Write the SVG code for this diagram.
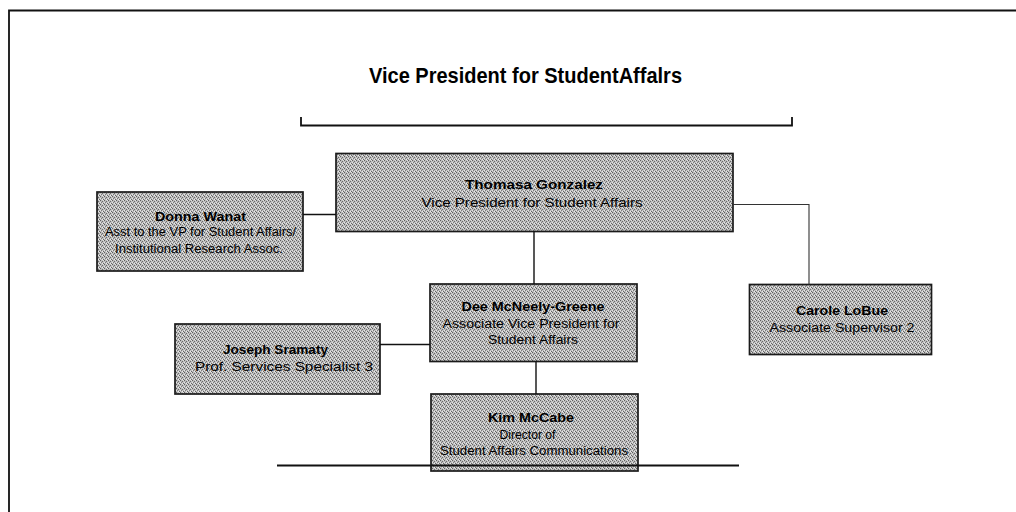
<svg xmlns="http://www.w3.org/2000/svg" width="1016" height="512" viewBox="0 0 1016 512">
  <defs>
    <!-- halftone-style grey fill for the position boxes -->
    <pattern id="halftone" patternUnits="userSpaceOnUse" width="4" height="4">
      <rect width="4" height="4" fill="#bdbdbd"/>
      <rect x="0" y="0" width="1" height="1" fill="#5e5e5e"/>
      <rect x="2" y="1" width="1" height="1" fill="#6a6a6a"/>
      <rect x="1" y="2" width="1" height="1" fill="#7a7a7a"/>
      <rect x="3" y="3" width="1" height="1" fill="#666"/>
      <rect x="2" y="3" width="1" height="1" fill="#ececec"/>
      <rect x="0" y="2" width="1" height="1" fill="#e6e6e6"/>
      <rect x="3" y="0" width="1" height="1" fill="#e0e0e0"/>
    </pattern>
    <style>
      .box { fill: url(#halftone); stroke: #1a1a1a; stroke-width: 1.7; }
      .name { font-family: "Liberation Sans", Arial, sans-serif; font-weight: bold; font-size: 12.5px; fill: #000; text-anchor: middle; }
      .role { font-family: "Liberation Sans", Arial, sans-serif; font-size: 12px; fill: #000; text-anchor: middle; }
      .title { font-family: "Liberation Sans", Arial, sans-serif; font-weight: bold; font-size: 22px; fill: #000; text-anchor: middle; }
      .link { fill: none; stroke: #111; stroke-width: 1.4; }
      .thin { fill: none; stroke: #333; stroke-width: 1.1; }
      .rule { fill: none; stroke: #111; stroke-width: 1.8; }
    </style>
  </defs>

  <rect width="1016" height="512" fill="#fff"/>

  <!-- page frame (open to the right and bottom) -->
  <path class="rule" d="M9,520 V10.5 H1030"/>

  <!-- heading -->
  <text class="title" x="525.5" y="83" textLength="313" lengthAdjust="spacingAndGlyphs">Vice President for StudentAffalrs</text>
  <path class="rule" d="M301,117 V125.5 H792 V117" stroke-width="1.5"/>

  <!-- positions -->
  <g id="node-gonzalez">
    <rect class="box" x="336" y="153.5" width="397" height="78"/>
    <text class="name" x="534" y="189" textLength="138" lengthAdjust="spacingAndGlyphs">Thomasa Gonzalez</text>
    <text class="role" x="532" y="206.5" textLength="221" lengthAdjust="spacingAndGlyphs">Vice President for Student Affairs</text>
  </g>

  <g id="node-wanat">
    <rect class="box" x="97" y="192" width="206" height="79"/>
    <text class="name" x="200.5" y="221" textLength="91" lengthAdjust="spacingAndGlyphs">Donna Wanat</text>
    <text class="role" x="200.5" y="236" textLength="191" lengthAdjust="spacingAndGlyphs">Asst to the VP for Student Affairs/</text>
    <text class="role" x="199" y="253" textLength="168" lengthAdjust="spacingAndGlyphs">Institutional Research Assoc.</text>
  </g>

  <g id="node-mcneely-greene">
    <rect class="box" x="430" y="284" width="207" height="77.5"/>
    <text class="name" x="533" y="310.5" textLength="143" lengthAdjust="spacingAndGlyphs">Dee McNeely-Greene</text>
    <text class="role" x="531" y="327.5" textLength="177" lengthAdjust="spacingAndGlyphs">Associate Vice President for</text>
    <text class="role" x="533" y="344" textLength="90" lengthAdjust="spacingAndGlyphs">Student Affairs</text>
  </g>

  <g id="node-sramaty">
    <rect class="box" x="175" y="324" width="205" height="70"/>
    <text class="name" x="275.5" y="354" textLength="105" lengthAdjust="spacingAndGlyphs">Joseph Sramaty</text>
    <text class="role" x="284" y="370.5" textLength="178" lengthAdjust="spacingAndGlyphs">Prof. Services Specialist 3</text>
  </g>

  <g id="node-lobue">
    <rect class="box" x="749.5" y="284.5" width="182" height="70"/>
    <text class="name" x="842" y="315" textLength="92" lengthAdjust="spacingAndGlyphs">Carole LoBue</text>
    <text class="role" x="842" y="331.5" textLength="145" lengthAdjust="spacingAndGlyphs">Associate Supervisor 2</text>
  </g>

  <g id="node-mccabe">
    <rect class="box" x="431" y="394" width="207" height="77"/>
    <text class="name" x="531" y="421.5" textLength="86" lengthAdjust="spacingAndGlyphs">Kim McCabe</text>
    <text class="role" x="527.5" y="439" textLength="56" lengthAdjust="spacingAndGlyphs">Director of</text>
    <text class="role" x="534" y="455" textLength="188" lengthAdjust="spacingAndGlyphs">Student Affairs Communications</text>
  </g>

  <!-- reporting lines -->
  <g id="connectors">
    <path class="link" d="M303,214.5 H336"/>
    <path class="link" d="M534,231.5 V284"/>
    <path class="thin" d="M733,204.5 H809 V284.5"/>
    <path class="link" d="M380,344.5 H430"/>
    <path class="link" d="M536,361.5 V394"/>
    <path class="rule" d="M277,465.5 H739"/>
  </g>
</svg>
